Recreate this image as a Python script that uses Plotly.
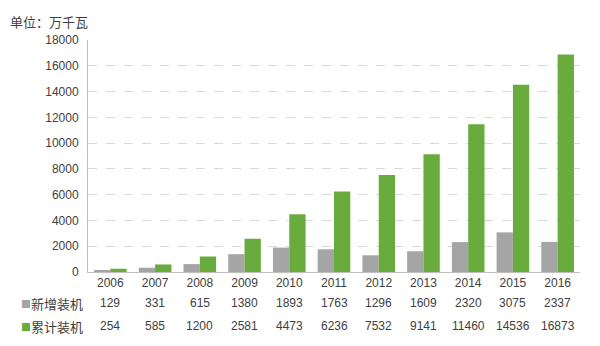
import plotly.graph_objects as go

years = ["2006", "2007", "2008", "2009", "2010", "2011",
         "2012", "2013", "2014", "2015", "2016"]
new_installed = [129, 331, 615, 1380, 1893, 1763, 1296, 1609, 2320, 3075, 2337]
cumulative = [254, 585, 1200, 2581, 4473, 6236, 7532, 9141, 11460, 14536, 16873]
series_names = ["新增装机", "累计装机"]
y_ticks = [0, 2000, 4000, 6000, 8000, 10000, 12000, 14000, 16000, 18000]

GRAY = "#a5a5a5"
GREEN = "#6aab3e"
TEXT = "#404040"
NUM_FONT = "Liberation Sans"
CJK_FONT = "Noto Sans CJK SC"

# plot-area geometry in page pixels
L, R, T, B = 88, 20, 40, 74
W, H = 600, 346
PW, PH = W - L - R, H - T - B


def px_x(px):
    return (px - L) / PW


def px_y(py):
    return (H - B - py) / PH


fig = go.Figure()
fig.add_trace(go.Bar(x=years, y=new_installed, name=series_names[0],
                     marker=dict(color=GRAY, line=dict(width=0))))
fig.add_trace(go.Bar(x=years, y=cumulative, name=series_names[1],
                     marker=dict(color=GREEN, line=dict(width=0))))

annotations = []
# data table under the category axis (x given as category index)
rows = [(new_installed, GRAY, series_names[0], 303),
        (cumulative, GREEN, series_names[1], 326)]
for values, color, name, row_py in rows:
    for i, v in enumerate(values):
        annotations.append(dict(x=i, y=px_y(row_py), xref="x", yref="paper",
                                text=str(v), showarrow=False,
                                font=dict(family=NUM_FONT, size=12, color=TEXT),
                                xanchor="center", yanchor="middle"))
    annotations.append(dict(x=px_x(19), y=px_y(row_py), xref="paper", yref="paper",
                            text="■", showarrow=False,
                            font=dict(family=CJK_FONT, size=10, color=color),
                            xanchor="left", yanchor="middle"))
    annotations.append(dict(x=px_x(29), y=px_y(row_py), xref="paper", yref="paper",
                            text=name, showarrow=False,
                            font=dict(family=CJK_FONT, size=13, color=TEXT),
                            xanchor="left", yanchor="middle"))

annotations.append(dict(x=px_x(8), y=px_y(22), xref="paper", yref="paper",
                        text="单位：万千瓦", showarrow=False,
                        font=dict(family=CJK_FONT, size=13, color=TEXT),
                        xanchor="left", yanchor="middle"))

fig.update_layout(
    width=W, height=H,
    margin=dict(l=L, r=R, t=T, b=B),
    paper_bgcolor="white", plot_bgcolor="white",
    barmode="group", bargap=0.27, bargroupgap=0,
    showlegend=False,
    annotations=annotations,
    xaxis=dict(type="category", range=[-0.5, len(years) - 0.5],
               showline=True, linecolor="#bfbfbf", linewidth=1,
               ticks="", showgrid=False,
               tickfont=dict(family=NUM_FONT, size=12, color=TEXT)),
    yaxis=dict(range=[0, 18000], tickvals=y_ticks, tickformat="d",
               showline=True, linecolor="#bfbfbf", linewidth=1,
               showgrid=True, gridcolor="#d9d9d9", griddash="dash", gridwidth=1,
               zeroline=False, ticks="", ticklabelstandoff=6,
               tickfont=dict(family=NUM_FONT, size=12, color=TEXT)),
)

fig.write_html("out.html")
